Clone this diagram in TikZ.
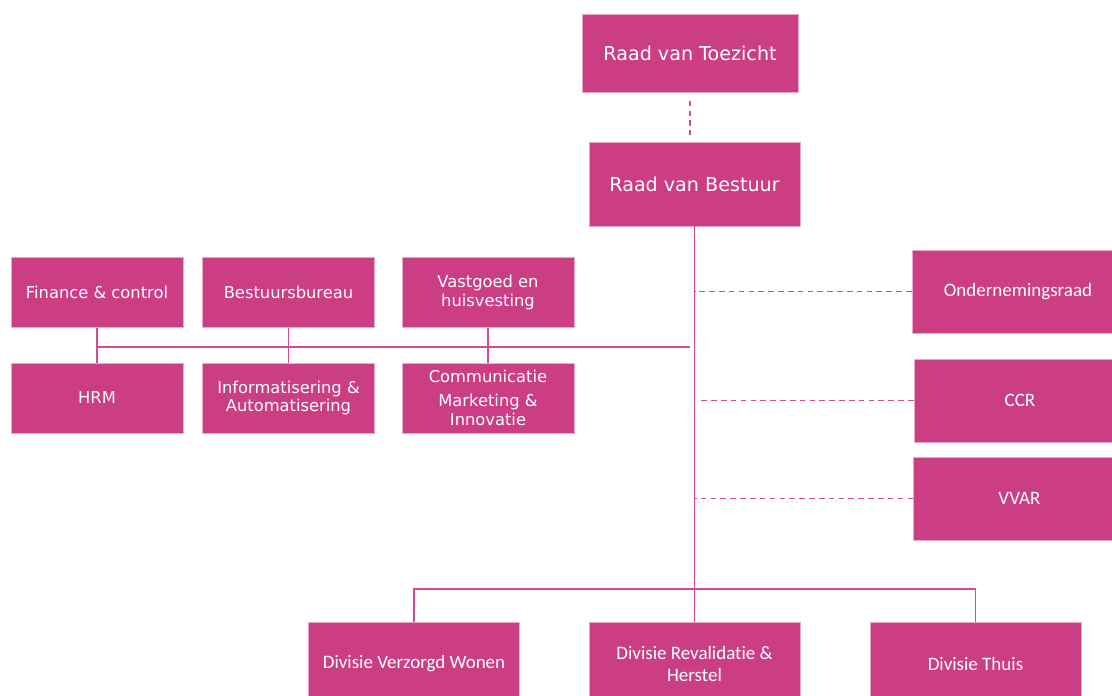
\documentclass[tikz,border=0pt]{standalone}
\usepackage{fontspec}
\setmainfont{DejaVu Sans}
\newfontfamily\calfont[Ligatures=NoCommon]{Carlito}
\definecolor{orgpink}{HTML}{CC3E83}
\definecolor{linepink}{HTML}{D24A92}
\tikzset{
  orgbox/.style={fill=orgpink, draw=orgpink!45!white, line width=0.5pt, text=white, align=center, inner sep=0pt},
  topbox/.style={orgbox, font=\fontsize{13.6}{16}\selectfont},
  staffbox/.style={orgbox, minimum width=4.3cm, minimum height=1.75cm, font=\fontsize{11.6}{13.2}\selectfont},
  sidebox/.style={orgbox, minimum width=5.3cm, minimum height=2.075cm, font=\calfont\fontsize{13.5}{15.6}\selectfont},
  divbox/.style={orgbox, minimum width=5.275cm, minimum height=2.1cm, font=\calfont\fontsize{13.5}{15.6}\selectfont},
  orgline/.style={draw=linepink, line width=1.3pt},
  dashline/.style={orgline, line width=1.1pt, dash pattern=on 4pt off 3pt}
}
\begin{document}
\begin{tikzpicture}[x=0.025cm, y=-0.025cm]
\useasboundingbox (0,0) rectangle (1112,696);
\clip (0,0) rectangle (1112,696);

% Boards
\node[topbox, minimum width=5.4cm, minimum height=1.95cm] (rvt) at (690,53) {Raad van Toezicht};
\node[topbox, minimum width=5.275cm, minimum height=2.1cm] (rvb) at (694.5,184) {Raad van Bestuur};

% Staff departments
\node[staffbox] (fin) at (97,292.5) {Finance \& control};
\node[staffbox] (bb)  at (288.5,292.5) {Bestuursbureau};
\node[staffbox] (vg)  at (488,292.5) {Vastgoed en\\huisvesting};
\node[staffbox] (hrm) at (97,398) {HRM};
\node[staffbox] (ia)  at (288.5,398) {Informatisering \&\\Automatisering};
\node[staffbox] (com) at (488,398) {Communicatie\\[4pt]Marketing \&\\Innovatie};

% Councils
\node[sidebox] (or)   at (1018,291.5) {Ondernemingsraad};
\node[sidebox] (ccr)  at (1020,400.5) {CCR};
\node[sidebox] (vvar) at (1019.5,498.5) {VVAR};

% Divisions
\node[divbox] (dvw) at (414,664) {Divisie Verzorgd Wonen};
\node[divbox] (drh) at (694.5,664) {Divisie Revalidatie \&\\Herstel};
\node[divbox] (dt)  at (975.5,664) {Divisie Thuis};

% Connectors
\coordinate (staff) at (690,347);
\coordinate (bus) at (694.5,589);
\draw[dashline, shorten <=6pt, shorten >=5pt] (rvt.south) -- (rvt.south |- rvb.north);
\draw[orgline] (rvb.south) -- (drh.north);
\draw[orgline] (dvw.north) |- (bus) -| (dt.north);
\draw[orgline] (fin.south |- staff) -- (staff);
\draw[orgline] (fin.south) -- (hrm.north);
\draw[orgline] (bb.south) -- (ia.north);
\draw[orgline] (vg.south) -- (com.north);
\draw[dashline] (or.west) -- (or.west -| rvb.south);
\draw[dashline, shorten >=4pt] (ccr.west) -- (ccr.west -| rvb.south);
\draw[dashline] (vvar.west) -- (vvar.west -| rvb.south);
\end{tikzpicture}
\end{document}
